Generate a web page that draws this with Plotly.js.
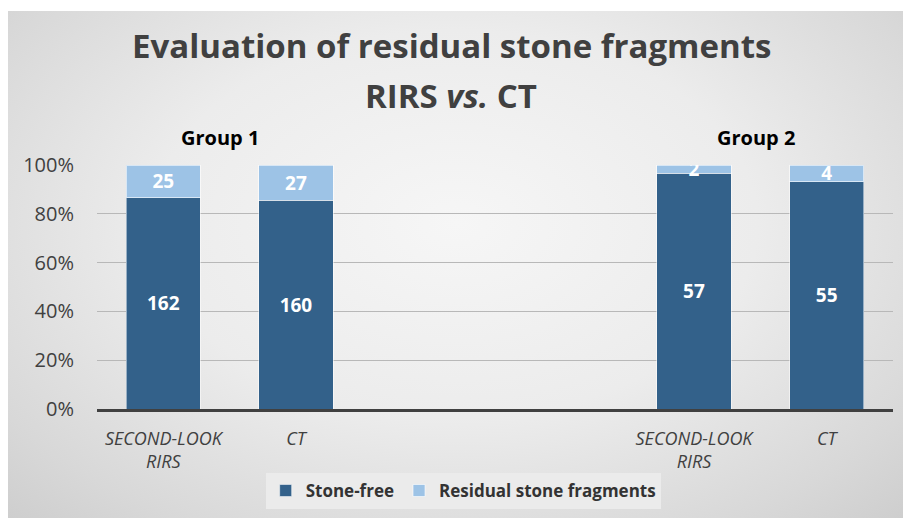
<!DOCTYPE html>
<html>
<head>
<meta charset="utf-8">
<script src="https://cdn.plot.ly/plotly-3.0.1.min.js"></script>
<style>
  html, body { margin:0; padding:0; background:#ffffff; }
  #bg { position:absolute; left:8px; top:11px; width:895px; height:507px;
        background: radial-gradient(ellipse 75% 85% at 50% 42%, #f6f6f6 0%, #ececec 45%, #d8d8d8 80%, #cbcbcb 100%); }
  #chart { position:absolute; left:0; top:0; width:903px; height:518px; }
</style>
</head>
<body>
<div id="bg"></div>
<div id="chart"></div>
<script>
const positions = [0, 1, 4, 5];
const tickLabels = ["SECOND-LOOK<br>RIRS", "CT", "SECOND-LOOK<br>RIRS", "CT"];
const groupLabels = ["Group 1", "Group 2"];
const groupCenters = [0.43, 4.47];
const stoneFree = [162, 160, 57, 55];
const residual = [25, 27, 2, 4];

const FONT = "Open Sans, sans-serif";
const TXT = "#404040";

const traces = [
  {
    type: "bar", name: "Stone-free", x: positions, y: stoneFree,
    text: stoneFree.map(String), textposition: "inside", insidetextanchor: "middle",
    constraintext: "none", textangle: 0,
    textfont: {family: FONT, size: 19, color: "#ffffff", weight: "bold"},
    marker: {color: "#33618a", line: {color: "rgba(255,255,255,0.5)", width: 1}},
    width: 0.56, hoverinfo: "skip"
  },
  {
    type: "bar", name: "Residual stone fragments", x: positions, y: residual,
    text: residual.map(String), textposition: "inside", insidetextanchor: "middle",
    constraintext: "none", textangle: 0,
    textfont: {family: FONT, size: 19, color: "#ffffff", weight: "bold"},
    marker: {color: "#9dc3e6", line: {color: "rgba(255,255,255,0.6)", width: 1}},
    width: 0.56, hoverinfo: "skip"
  }
];

const annotations = [
  {text: "<b>Evaluation of residual stone fragments</b>", xref: "paper", yref: "paper",
   x: 0.445, y: (410 - 45) / 245, showarrow: false, yanchor: "middle",
   font: {family: FONT, size: 33, color: TXT}},
  {text: "<b>RIRS <i>vs.</i> CT</b>", xref: "paper", yref: "paper",
   x: 0.445, y: (410 - 95) / 245, showarrow: false, yanchor: "middle",
   font: {family: FONT, size: 33, color: TXT}}
];
groupLabels.forEach((g, i) => annotations.push({
  text: "<b>" + g + "</b>", xref: "x", yref: "paper", x: groupCenters[i],
  y: (410 - 137) / 245, showarrow: false, yanchor: "middle",
  font: {family: FONT, size: 20, color: "#000000"}
}));

const layout = {
  width: 903, height: 518,
  margin: {l: 97, r: 10, t: 165, b: 108},
  paper_bgcolor: "rgba(0,0,0,0)", plot_bgcolor: "rgba(0,0,0,0)",
  barmode: "stack", barnorm: "percent",
  showlegend: true,
  legend: {orientation: "h", x: 0.46, xanchor: "center", y: -0.257, yanchor: "top",
           bgcolor: "#ebebeb", font: {family: FONT, size: 17, color: "#333333", weight: "bold"},
           traceorder: "normal", itemwidth: 30},
  xaxis: {range: [-0.5, 5.5], tickmode: "array", tickvals: positions, ticktext: tickLabels,
          showgrid: false, zeroline: false, showline: true, linecolor: "#404040", linewidth: 3,
          ticks: "", ticklabelstandoff: 11,
          tickfont: {family: FONT, size: 18, color: TXT, style: "italic"}, fixedrange: true},
  yaxis: {range: [0, 100], dtick: 20, ticksuffix: "%", showgrid: true, gridcolor: "#b8b8b8",
          gridwidth: 1, zeroline: false, showline: false, ticklabelstandoff: 22,
          tickfont: {family: FONT, size: 20, color: TXT}, fixedrange: true},
  annotations: annotations
};

Plotly.newPlot("chart", traces, layout, {displayModeBar: false, staticPlot: true});
</script>
</body>
</html>
